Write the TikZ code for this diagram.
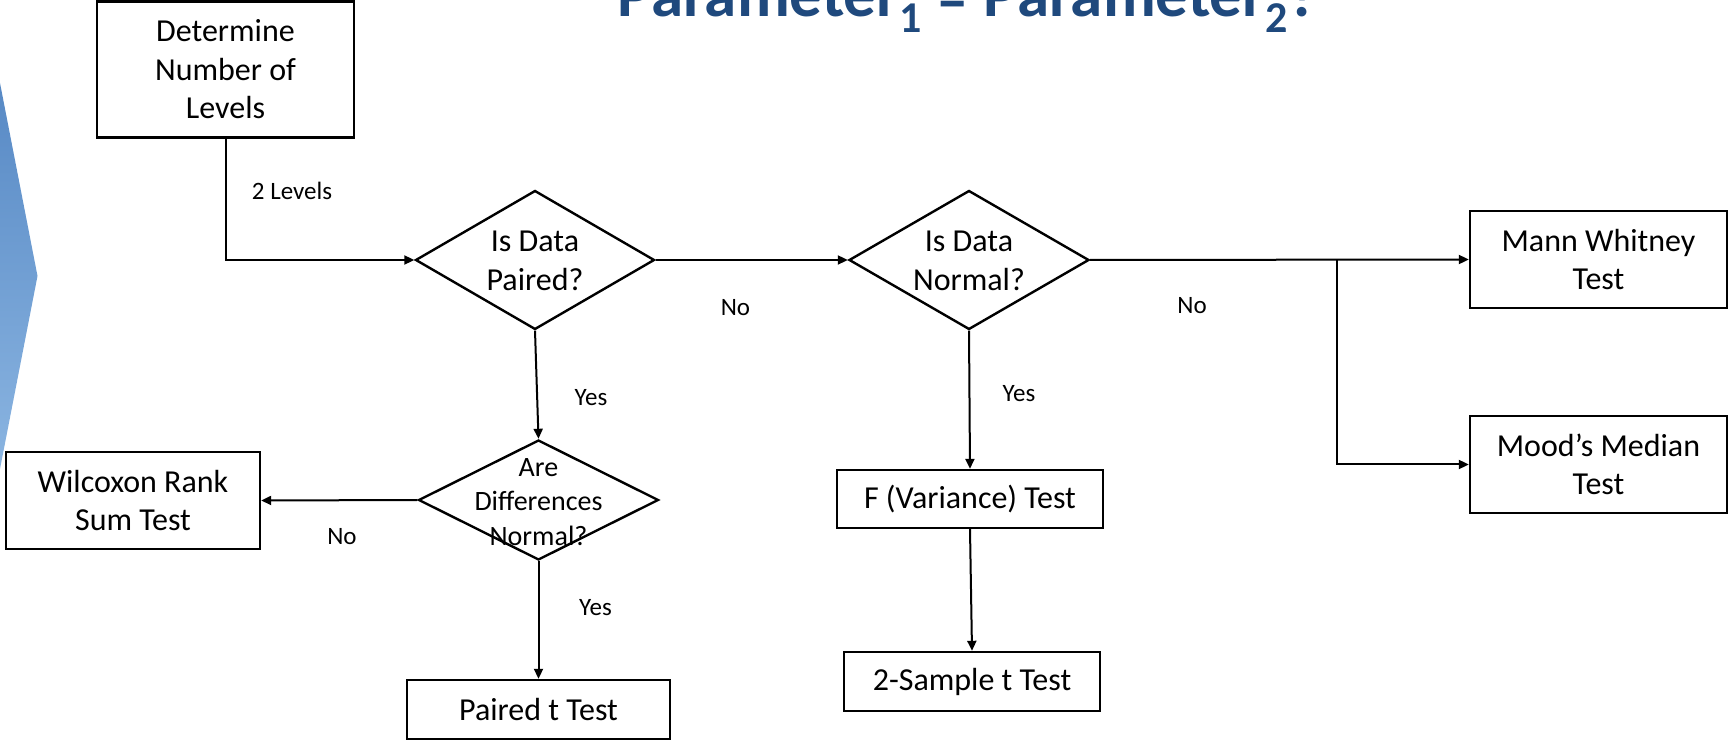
\documentclass[tikz,border=0pt]{standalone}
\usepackage{fontspec}
\setmainfont{Carlito}
\usetikzlibrary{shapes.geometric,arrows.meta}
\definecolor{titleblue}{RGB}{31,73,125}
\definecolor{chevtop}{RGB}{86,136,196}
\definecolor{chevbot}{RGB}{140,182,226}
\newcommand\subdig[1]{\raisebox{-8pt}{\fontsize{22}{26}\selectfont #1}}
\begin{document}
\begin{tikzpicture}[x=0.5pt,y=-0.5pt,
  box/.style={draw, line width=1.2pt, align=center, inner sep=0pt,
    font=\fontsize{16}{19.3}\selectfont},
  dia/.style={draw, diamond, line width=1.2pt, inner sep=0pt},
  diatext/.style={align=center, inner sep=0pt, font=\fontsize{16}{19.3}\selectfont},
  lbl/.style={inner sep=0pt, font=\fontsize{12.5}{15}\selectfont},
  arr/.style={line width=1pt, -{Triangle[length=5pt,width=4.5pt]}},
  con/.style={line width=1pt}]
\useasboundingbox (0,0) rectangle (1729,742);
\clip (0,0) rectangle (1729,742);
% chevron
\shade[top color=chevtop, bottom color=chevbot] (-5,70) -- (0,83) -- (37.5,276) -- (0,469) -- (-5,482) -- cycle;
% title
\node[anchor=base, inner sep=0pt, text=titleblue, font=\fontsize{32.5}{39}\selectfont\bfseries] (title) at (968,16.7)
  {Parameter\subdig{1} \raisebox{-2.7pt}{–} Parameter\subdig{2}?};
% boxes
\node[box, minimum width=128.5pt, minimum height=68pt] (det) at (225.5,69.5) {Determine\\Number of\\Levels};
\node[box, minimum width=128.5pt, minimum height=48.5pt] (mann) at (1598.5,259.5) {Mann Whitney\\Test};
\node[box, minimum width=128.5pt, minimum height=48.5pt] (mood) at (1598.5,464.5) {Mood’s Median\\Test};
\node[box, minimum width=127pt, minimum height=48.5pt] (wil) at (133,500.5) {Wilcoxon Rank\\Sum Test};
\node[box, minimum width=131.5pt, minimum height=29.5pt] (pt) at (538.5,709.5) {Paired t Test};
\node[box, minimum width=133pt, minimum height=29pt] (ft) at (970,499) {F (Variance) Test};
\node[box, minimum width=128pt, minimum height=29.5pt] (ts) at (972,681.5) {2-Sample t Test};
% diamonds
\node[dia, minimum width=119.5pt, minimum height=69.5pt] (paired) at (535,260) {};
\node[diatext] (pairedt) at (535,261) {Is Data\\Paired?};
\node[dia, minimum width=120pt, minimum height=69.5pt] (normal) at (969,260) {};
\node[diatext] (normalt) at (969,261) {Is Data\\Normal?};
\node[dia, minimum width=120pt, minimum height=60pt] (diff) at (538.5,500) {};
\node[diatext, font=\fontsize{14}{17.35}\selectfont] (difft) at (538.5,502) {Are\\Differences\\Normal?};
% connectors
\draw[arr] (det.south) |- (paired.west);
\draw[arr] (paired.east) -- (normal.west);
\draw[arr] (normal.east) -- (mann.west);
\coordinate (br) at (1337,259.5);
\draw[arr] (br) |- (mood.west);
\draw[arr] (paired.south) -- (diff.north);
\draw[arr] (diff.west) -- (wil.east);
\draw[arr] (diff.south) -- (pt.north);
\draw[arr] (normal.south) -- (ft.north);
\draw[arr] (ft.south) -- (ts.north);
% labels
\node[lbl] (l2) at (292,191) {2 Levels};
\node[lbl] (no1) at (735.5,307.5) {No};
\node[lbl] (no2) at (1192,305.5) {No};
\node[lbl] (yes1) at (591,398) {Yes};
\node[lbl] (yes2) at (1019,393.5) {Yes};
\node[lbl] (no3) at (342,537) {No};
\node[lbl] (yes3) at (595.5,607.5) {Yes};
\end{tikzpicture}
\end{document}
